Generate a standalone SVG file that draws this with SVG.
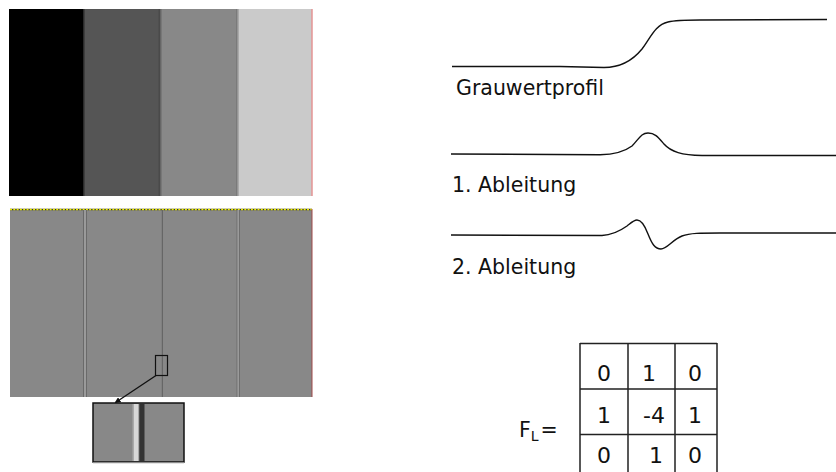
<svg xmlns="http://www.w3.org/2000/svg" width="836" height="472" viewBox="0 0 836 472">
  <style>
    .lbl { font-family: "DejaVu Sans", "Liberation Sans", sans-serif; font-size: 20.5px; fill: #111; }
    .num { font-family: "DejaVu Sans", "Liberation Sans", sans-serif; font-size: 22px; fill: #111; text-anchor: middle; }
    .curve { fill: none; stroke: #111; stroke-width: 1.4; }
    .grid { stroke: #222; stroke-width: 1.5; fill: none; }
  </style>
  <defs>
    <marker id="ah" markerWidth="6" markerHeight="6" refX="5" refY="3" orient="auto" markerUnits="userSpaceOnUse">
      <path d="M0,0 L6,3 L0,6 Z" fill="#111"/>
    </marker>
  </defs>
  <rect width="836" height="472" fill="#fff"/>

  <g id="stripes-image">
    <rect x="9" y="9" width="75" height="187" fill="#000"/>
    <rect x="84" y="9" width="76" height="187" fill="#555"/>
    <rect x="160" y="9" width="78" height="187" fill="#888"/>
    <rect x="238" y="9" width="73.5" height="187" fill="#cacaca"/>
    <rect x="83" y="9" width="1.5" height="187" fill="#2a2a2a"/>
    <rect x="158.5" y="9" width="1.5" height="187" fill="#4a4a4a"/>
    <rect x="160" y="9" width="1.5" height="187" fill="#666"/>
    <rect x="236" y="9" width="1.5" height="187" fill="#7a7a7a"/>
    <rect x="237.5" y="9" width="1.5" height="187" fill="#aaa"/>
    <rect x="311.5" y="9" width="1" height="187" fill="#d86060"/>
  </g>

  <g id="laplace-image">
    <rect x="10" y="209" width="302" height="188" fill="#888"/>
    <line x1="10" y1="209.5" x2="312" y2="209.5" stroke="#333" stroke-width="1.5"/>
    <line x1="10" y1="209.5" x2="312" y2="209.5" stroke="#ee0" stroke-width="1.5" stroke-dasharray="2 1.3"/>
    <rect x="83" y="210" width="1" height="187" fill="#6a6a6a"/>
    <rect x="84" y="210" width="2" height="187" fill="#9a9a9a"/>
    <rect x="86" y="210" width="1" height="187" fill="#6a6a6a"/>
    <rect x="161.8" y="210" width="1.2" height="187" fill="#666"/>
    <rect x="236.5" y="210" width="1" height="187" fill="#6e6e6e"/>
    <rect x="237.5" y="210" width="1.5" height="187" fill="#9a9a9a"/>
    <rect x="239" y="210" width="1" height="187" fill="#6e6e6e"/>
    <rect x="311.5" y="209" width="1" height="188" fill="#a04848"/>
    <rect x="155.5" y="355.5" width="12" height="20" fill="none" stroke="#111" stroke-width="1.2"/>
  </g>

  <g id="zoom-inset">
    <rect x="93" y="403" width="91" height="59" fill="#888" stroke="#111" stroke-width="1.5"/>
    <rect x="132.5" y="404" width="1.5" height="57" fill="#aaa"/>
    <rect x="134" y="404" width="4" height="57" fill="#d8d8d8"/>
    <rect x="138" y="404" width="1.3" height="57" fill="#aaa"/>
    <rect x="139.3" y="404" width="5.2" height="57" fill="#333"/>
    <line x1="93" y1="463" x2="184" y2="463" stroke="#ccc" stroke-width="1"/>
  </g>

  <g id="connectors">
    <line x1="156" y1="375.5" x2="115.5" y2="402.5" stroke="#111" stroke-width="1.3" marker-end="url(#ah)"/>
  </g>

  <g id="profile">
    <path class="curve" d="M452,66.5 L560,66.5 L604,67.5 C622,67.5 633,60 642,49 C651,37 655,25 668,22 C676,20 690,20 700,20 L827,19.5"/>
    <text class="lbl" x="456" y="94.5">Grauwertprofil</text>
  </g>

  <g id="first-derivative">
    <path class="curve" d="M451,154 L600,154.8 C614,154.5 624,152 632,146 C639,139 641,133 648,133 C655,133 658,137 664,144 C671,152 682,155 702,155.5 L836,155.5"/>
    <text class="lbl" x="452" y="191.5">1. Ableitung</text>
  </g>

  <g id="second-derivative">
    <path class="curve" d="M451,235 L602,235.5 C613,235 620,231 627,226 C632,222 634,220 637,220 C642,220 645,226 648,234 C652,244 655,249 661,249 C667,249 672,240 682,236 C690,233 700,233 720,233 L836,233"/>
    <text class="lbl" x="452" y="274">2. Ableitung</text>
  </g>

  <g id="laplace-kernel">
    <text class="lbl" x="519" y="437" font-size="21">F<tspan font-size="14" dy="4">L</tspan><tspan dy="-4" dx="2">=</tspan></text>
    <path class="grid" d="M580,343.5 H717 M580,389 H717 M580,434.5 H717 M580,343 V472 M628,343 V472 M675,343 V472 M717,343 V472"/>
    <text class="num" x="604" y="381">0</text>
    <text class="num" x="649" y="381">1</text>
    <text class="num" x="695" y="381">0</text>
    <text class="num" x="604" y="423">1</text>
    <text class="num" x="654" y="423">-4</text>
    <text class="num" x="695" y="423">1</text>
    <text class="num" x="604" y="463">0</text>
    <text class="num" x="656" y="463">1</text>
    <text class="num" x="695" y="463">0</text>
  </g>
</svg>
